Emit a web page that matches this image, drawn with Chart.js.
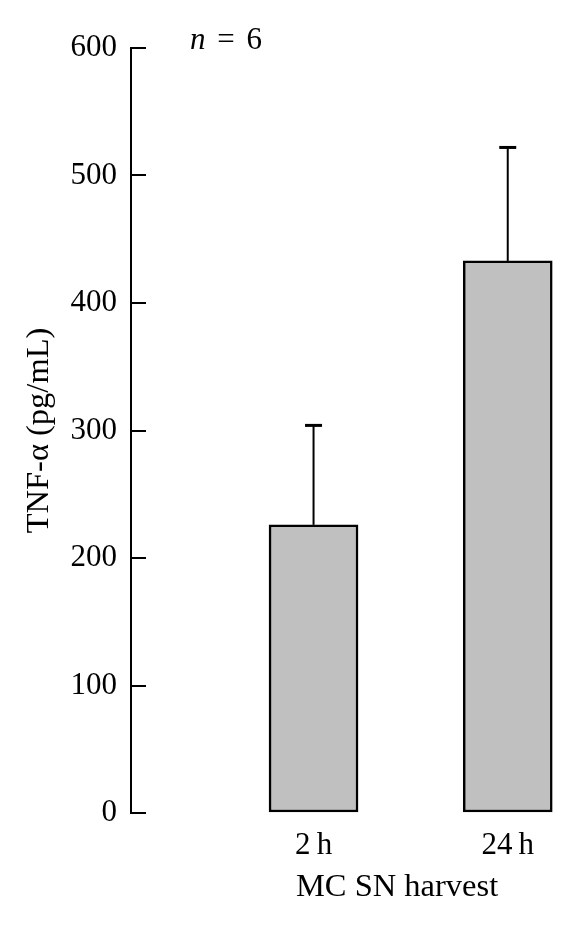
<!DOCTYPE html>
<html>
<head>
<meta charset="utf-8">
<script src="https://cdn.jsdelivr.net/npm/chart.js@4.4.1/dist/chart.umd.min.js"></script>
<style>
  html, body { margin: 0; padding: 0; background: #fff; }
  #wrap { position: relative; width: 574px; height: 935px; }
  #note { position: absolute; left: 190px; top: 21px; font: 31px "Liberation Serif", serif; word-spacing: 4px; color: #000; white-space: nowrap; }
</style>
</head>
<body>
<div id="wrap">
  <canvas id="c"></canvas>
  <div id="note"><i>n</i> = 6</div>
</div>
<script>
const categories = ['2\u2009h', '24\u2009h'];
const means = [226, 433];
const errors = [78, 89];
const yTicks = [0, 100, 200, 300, 400, 500, 600];
const yTitle = 'TNF-\u03b1 (pg/mL)';
const xTitle = 'MC SN harvest';

const FONT = '"Liberation Serif", serif';

const errorBars = {
  id: 'errorBars',
  afterDatasetsDraw(chart) {
    const meta = chart.getDatasetMeta(0);
    const ys = chart.scales.y;
    const ctx = chart.ctx;
    ctx.save();
    ctx.strokeStyle = '#000';
    meta.data.forEach((bar, i) => {
      const x = bar.x;
      const yb = ys.getPixelForValue(means[i]);
      const yt = ys.getPixelForValue(means[i] + errors[i]);
      ctx.lineWidth = 2;
      ctx.beginPath();
      ctx.moveTo(x, yb);
      ctx.lineTo(x, yt);
      ctx.stroke();
      ctx.lineWidth = 3;
      ctx.beginPath();
      ctx.moveTo(x - 8.5, yt);
      ctx.lineTo(x + 8.5, yt);
      ctx.stroke();
    });
    ctx.restore();
  }
};

// x-axis title, placed a little left of the axis centre as in the original figure
const xAxisTitle = {
  id: 'xAxisTitle',
  afterDraw(chart) {
    const xs = chart.scales.x;
    const ctx = chart.ctx;
    ctx.save();
    ctx.fillStyle = '#000';
    ctx.font = '32.5px ' + FONT;
    ctx.textAlign = 'center';
    ctx.textBaseline = 'middle';
    ctx.fillText(xTitle, xs.getPixelForValue(1.43), chart.chartArea.bottom + 74);
    ctx.restore();
  }
};

new Chart(document.getElementById('c'), {
  type: 'bar',
  data: {
    datasets: [{
      data: means.map((v, i) => ({ x: i + 1, y: v })),
      backgroundColor: '#c0c0c0',
      borderColor: '#000',
      borderWidth: 2.5,
      borderSkipped: false,
      barThickness: 89
    }]
  },
  options: {
    responsive: true,
    maintainAspectRatio: false,
    animation: false,
    layout: { padding: { left: 20, top: 48, right: 8, bottom: 32 } },
    plugins: { legend: { display: false }, tooltip: { enabled: false } },
    scales: {
      x: {
        type: 'linear',
        min: 0.06,
        max: 2.3,
        offset: false,
        grid: { display: false, drawTicks: false },
        border: { display: false },
        afterBuildTicks: (s) => { s.ticks = categories.map((c, i) => ({ value: i + 1 })); },
        afterFit: (s) => { s.height = 90; },
        ticks: {
          autoSkip: false,
          maxRotation: 0,
          padding: 14,
          color: '#000',
          font: { family: FONT, size: 31 },
          callback: (v) => categories[v - 1] ?? ''
        },
        title: { display: false }
      },
      y: {
        min: 0,
        max: 600,
        afterBuildTicks: (s) => { s.ticks = yTicks.map(v => ({ value: v })); },
        afterFit: (s) => { s.width = 111; },
        grid: { drawOnChartArea: false, drawTicks: true, tickLength: -15, color: '#000', lineWidth: 2 },
        border: { display: true, color: '#000', width: 2 },
        ticks: {
          padding: 29,
          color: '#000',
          font: { family: FONT, size: 31 }
        },
        title: {
          display: true,
          text: yTitle,
          color: '#000',
          font: { family: FONT, size: 32.5 },
          padding: { top: 0, bottom: 14 }
        }
      }
    }
  },
  plugins: [errorBars, xAxisTitle]
});
</script>
</body>
</html>
